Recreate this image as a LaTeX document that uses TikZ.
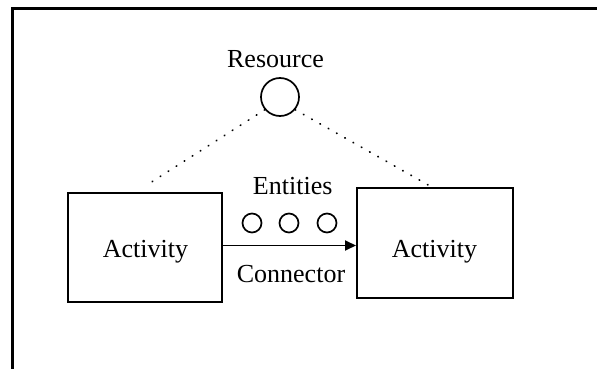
\documentclass[tikz,border=0pt]{standalone}
\usepackage{fontspec}
\setmainfont{Liberation Serif}
\usetikzlibrary{arrows.meta}
\begin{document}
\begin{tikzpicture}[x=1pt,y=-1pt,
  lbl/.style={font=\fontsize{26}{30}\selectfont, inner sep=0pt, anchor=base},
  actbox/.style={draw, line width=2pt, inner sep=0pt},
  ring/.style={draw, circle, line width=1.7pt, inner sep=0pt},
  dotline/.style={line width=1.8pt, dash pattern=on 0.5pt off 9pt, line cap=round},
  frameline/.style={line width=3pt}
]
\useasboundingbox (0,0) rectangle (597,369);
% frame (open on right and bottom)
\coordinate (ftr) at (597,9);
\coordinate (ftl) at (12,9);
\coordinate (fbl) at (12,369);
\draw[frameline] (ftr) -- (ftl) -- (fbl);
% activities
\node[actbox, minimum width=154pt, minimum height=109pt] (a1) at (145,247.5) {};
\node[actbox, minimum width=156pt, minimum height=110pt] (a2) at (435,243) {};
\node[lbl] (t1) at (145.5,257) {Activity};
\node[lbl] (t2) at (434.5,257) {Activity};
% resource
\node[lbl] (rtxt) at (275.5,67) {Resource};
\node[ring, minimum size=38pt] (res) at (280,97) {};
\coordinate (dl) at (150,183);
\coordinate (dr) at (430,186);
\draw[dotline] (res.220) -- (dl);
\draw[dotline] (res.-40) -- (dr);
% entities
\node[lbl] (etxt) at (292.7,194) {Entities};
\node[ring, minimum size=19pt] (e1) at (252,223) {};
\node[ring, minimum size=19pt] (e2) at (289,223) {};
\node[ring, minimum size=19pt] (e3) at (327,223) {};
% connector
\coordinate (cs) at (a1.east |- 0,245.5);
\coordinate (ce) at (a2.west |- 0,245.5);
\draw[line width=1.8pt, -{Triangle[length=11pt,width=10pt]}] (cs) -- (ce);
\node[lbl] (ctxt) at (291,282) {Connector};
\end{tikzpicture}
\end{document}
